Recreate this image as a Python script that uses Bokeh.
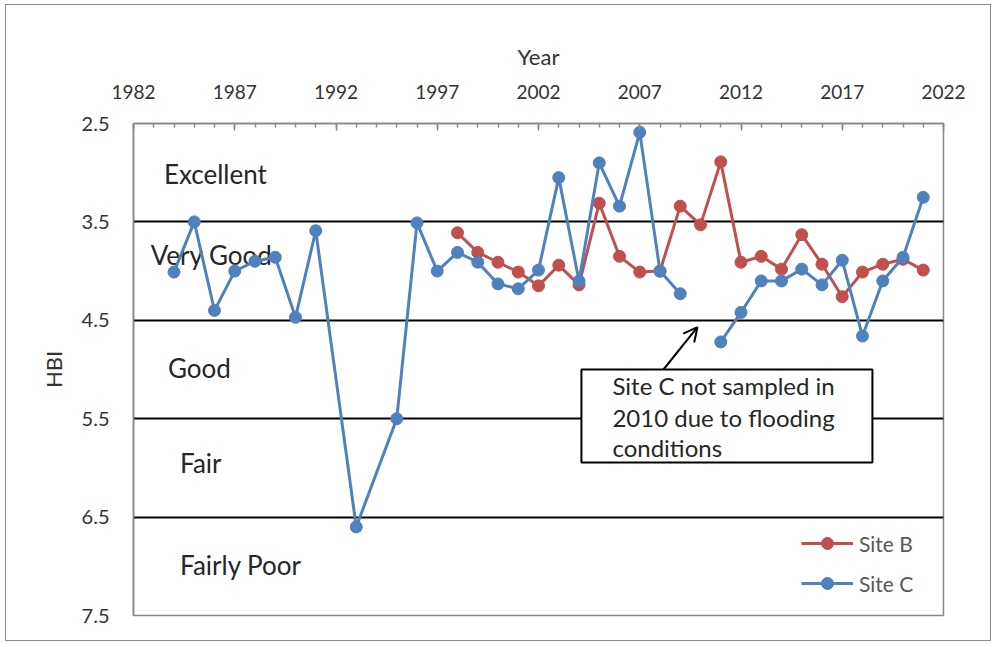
from bokeh.plotting import figure
from bokeh.models import (Range1d, FixedTicker, Label, BoxAnnotation, Arrow, OpenHead,
                          Legend, LegendItem)
from bokeh.embed import file_html
from bokeh.resources import INLINE

# ---- data ----
years_b = [1998, 1999, 2000, 2001, 2002, 2003, 2004, 2005, 2006, 2007, 2008, 2009,
           2010, 2011, 2012, 2013, 2014, 2015, 2016, 2017, 2018, 2019, 2020, 2021]
hbi_b = [3.61, 3.81, 3.91, 4.01, 4.15, 3.94, 4.14, 3.31, 3.85, 4.01, 4.00, 3.34,
         3.53, 2.89, 3.91, 3.85, 3.98, 3.63, 3.93, 4.26, 4.01, 3.93, 3.88, 3.99]

years_c = [1984, 1985, 1986, 1987, 1988, 1989, 1990, 1991, 1993, 1995, 1996, 1997,
           1998, 1999, 2000, 2001, 2002, 2003, 2004, 2005, 2006, 2007, 2008, 2009,
           2010, 2011, 2012, 2013, 2014, 2015, 2016, 2017, 2018, 2019, 2020, 2021]
hbi_c = [4.01, 3.50, 4.40, 4.00, 3.90, 3.86, 4.47, 3.59, 6.60, 5.50, 3.51, 4.00,
         3.81, 3.91, 4.13, 4.18, 3.99, 3.05, 4.10, 2.90, 3.34, 2.59, 4.00, 4.23,
         float("nan"), 4.72, 4.42, 4.10, 4.10, 3.98, 4.14, 3.89, 4.66, 4.10, 3.86, 3.25]

x_ticks = [1982, 1987, 1992, 1997, 2002, 2007, 2012, 2017, 2022]
y_ticks = [2.5, 3.5, 4.5, 5.5, 6.5, 7.5]
class_bounds = [3.5, 4.5, 5.5, 6.5]
class_names = ["Excellent", "Very Good", "Good", "Fair", "Fairly Poor"]
note_lines = ["Site C not sampled in", "2010 due to flooding", "conditions"]

FONT = "Lato"
RED = "#C0504D"
BLUE = "#4F81BD"
AXC = "#868686"

p = figure(width=986, height=637, output_backend="svg", toolbar_location=None,
           x_range=Range1d(1982, 2022), y_range=Range1d(7.5, 2.5),
           x_axis_location="above", min_border_left=127, min_border_top=118,
           min_border_right=49, min_border_bottom=27)
p.margin = (4, 0, 0, 5)
p.styles = {"border": "1px solid #8c8c8c"}
p.outline_line_color = AXC
p.outline_line_width = 1.5

# x axis (top)
xa = p.xaxis[0]
xa.ticker = FixedTicker(ticks=x_ticks, minor_ticks=list(range(1982, 2023)))
xa.axis_label = "Year"
xa.axis_label_text_font = FONT
xa.axis_label_text_font_style = "normal"
xa.axis_label_text_font_size = "22px"
xa.axis_label_text_color = "#333333"
xa.axis_label_standoff = 12
xa.major_label_text_font = FONT
xa.major_label_text_font_size = "19px"
xa.major_label_text_color = "#333333"
xa.major_label_standoff = 25
xa.axis_line_color = AXC
xa.axis_line_width = 1.5
xa.major_tick_in = 7
xa.major_tick_out = 0
xa.minor_tick_in = 4
xa.minor_tick_out = 0
xa.major_tick_line_color = AXC
xa.minor_tick_line_color = AXC
xa.major_tick_line_width = 1.5
xa.minor_tick_line_width = 1.5

# y axis (left)
ya = p.yaxis[0]
ya.ticker = FixedTicker(ticks=y_ticks)
ya.axis_label = "HBI"
ya.axis_label_text_font = FONT
ya.axis_label_text_font_style = "normal"
ya.axis_label_text_font_size = "22px"
ya.axis_label_text_color = "#333333"
ya.axis_label_standoff = 12
ya.major_label_text_font = FONT
ya.major_label_text_font_size = "20px"
ya.major_label_text_color = "#333333"
ya.major_label_standoff = 24
ya.axis_line_color = AXC
ya.axis_line_width = 1.5
ya.major_tick_in = 0
ya.major_tick_out = 0
ya.minor_tick_line_color = None

p.xgrid.visible = False
p.ygrid.ticker = FixedTicker(ticks=class_bounds)
p.ygrid.grid_line_color = "black"
p.ygrid.grid_line_width = 2

# class labels
label_pos = [(1983.5, 3.01), (1982.85, 3.84), (1983.7, 4.98), (1984.3, 5.95), (1984.3, 6.99)]
for name, (lx, ly) in zip(class_names, label_pos):
    p.add_layout(Label(x=lx, y=ly, text=name, text_font=FONT, text_font_size="26px",
                       text_color="#262626", text_baseline="middle", text_align="left",
                       level="underlay"))

# series
lb = p.line(years_b, hbi_b, line_color=RED, line_width=3)
sb = p.scatter(years_b, hbi_b, size=12, fill_color=RED, line_color=RED)
lc = p.line(years_c, hbi_c, line_color=BLUE, line_width=3)
sc = p.scatter(years_c, hbi_c, size=12, fill_color=BLUE, line_color=BLUE)

# annotation box
p.add_layout(BoxAnnotation(left=2004.12, right=2018.49, top=5.0, bottom=5.945,
                           fill_color="white", fill_alpha=1.0,
                           line_color="black", line_width=2, line_alpha=1.0))
for t, ly in zip(note_lines, [5.16, 5.485, 5.79]):
    p.add_layout(Label(x=2005.65, y=ly, text=t, text_font=FONT, text_font_size="24px",
                       text_color="#262626", text_baseline="middle", text_align="left"))
p.add_layout(Arrow(end=OpenHead(size=14, line_width=2, line_color="black"),
                   x_start=2008.17, y_start=5.0, x_end=2009.85, y_end=4.57,
                   line_width=2, line_color="black"))

legend = Legend(items=[LegendItem(label="Site B", renderers=[lb, sb]),
                       LegendItem(label="Site C", renderers=[lc, sc])],
                location=(668, 17), border_line_color=None, background_fill_alpha=0,
                label_text_font=FONT, label_text_font_size="21px",
                label_text_color="#595959", glyph_width=52, glyph_height=30,
                spacing=10, padding=0, margin=0, label_standoff=6)
p.add_layout(legend)

open("out.html", "w").write(file_html(p, INLINE))
